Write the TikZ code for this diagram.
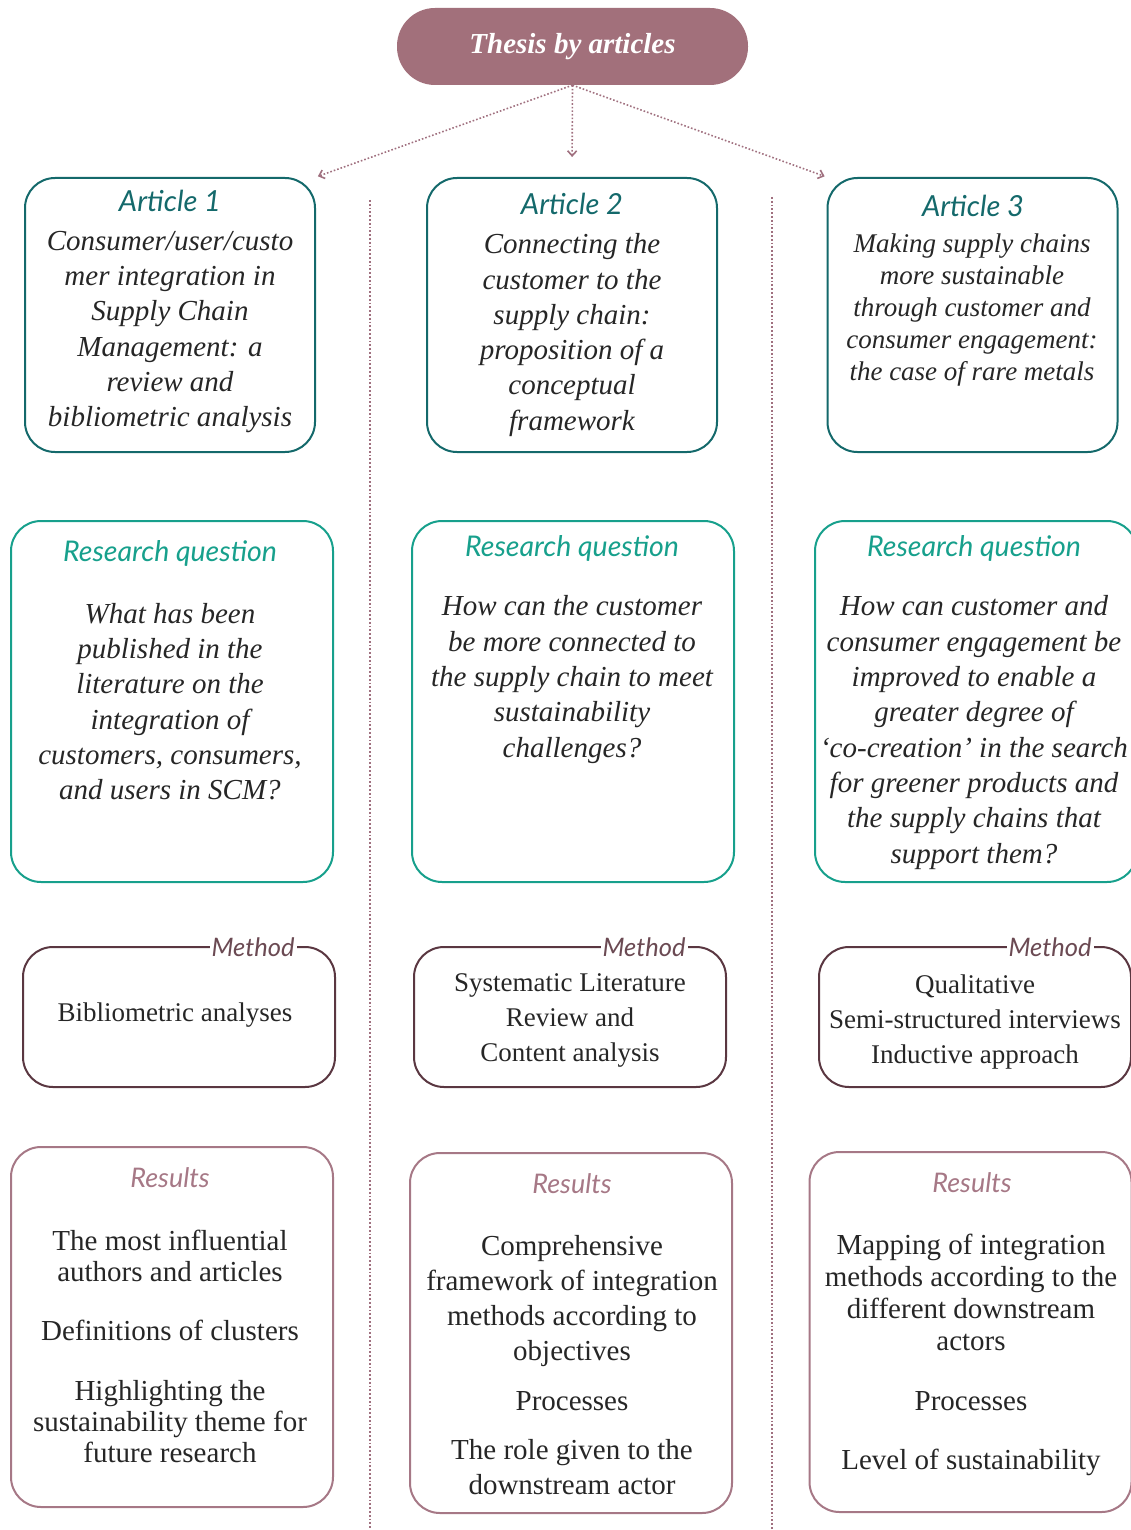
\documentclass[tikz,border=0pt]{standalone}
\usepackage{fontspec}
\setmainfont{Liberation Serif}
\newfontfamily\headfont{Lato}
\usetikzlibrary{arrows.meta,positioning}
\definecolor{artcol}{HTML}{14696B}
\definecolor{rqcol}{HTML}{17A08C}
\definecolor{methcol}{HTML}{5A3741}
\definecolor{methtxt}{HTML}{6B4A53}
\definecolor{rescol}{HTML}{A67886}
\definecolor{thesiscol}{HTML}{A2707B}
\definecolor{dotcol}{HTML}{A0707F}
\begin{document}
\begin{tikzpicture}[x=1pt, y=-1pt,
    thesis/.style={fill=thesiscol, rounded corners=38pt, minimum width=351pt, minimum height=77pt, text=white, font=\fontsize{29}{32}\selectfont\bfseries\itshape},
    artbox/.style={draw=artcol, line width=2pt, rounded corners=30pt, minimum width=290pt, minimum height=274pt},
    rqbox/.style={draw=rqcol, line width=2pt, rounded corners=30pt, minimum width=322pt, minimum height=361pt},
    methbox/.style={draw=methcol, line width=2pt, rounded corners=30pt, minimum width=312pt, minimum height=140pt},
    resbox/.style={draw=rescol, line width=2pt, rounded corners=30pt, minimum width=322pt, minimum height=360pt},
    arthead/.style={text=artcol, font=\headfont\itshape\fontsize{29}{32}\selectfont},
    rqhead/.style={text=rqcol, font=\headfont\itshape\fontsize{28.5}{32}\selectfont},
    methhead/.style={text=methtxt, fill=white, inner xsep=2pt, inner ysep=0pt, font=\headfont\itshape\fontsize{25.5}{28}\selectfont},
    reshead/.style={text=rescol, font=\headfont\itshape\fontsize{27}{30}\selectfont},
    body/.style={align=center, text=black!85, inner sep=0pt, font=\fontsize{27}{35}\selectfont},
    rbody/.style={body, font=\fontsize{29}{35}\selectfont},
    ibody/.style={body, font=\fontsize{29}{35.3}\selectfont\itshape},
    sbody/.style={body, font=\fontsize{27}{32}\selectfont\itshape},
    link/.style={dotted, line width=1.6pt, dotcol, -{Straight Barb[length=5pt, width=9pt]}},
    sep/.style={dotted, line width=1.8pt, dotcol}
]
\useasboundingbox (0,0) rectangle (1131,1530);

\node[thesis] (thesis) at (572.5,46.5) {Thesis by articles};

\node[artbox] (art1) at (170,315) {};
\node[artbox] (art2) at (572,315) {};
\node[artbox] (art3) at (972.5,315) {};
\node[rqbox] (rq1) at (172,701.5) {};
\node[rqbox] (rq2) at (573,701.5) {};
\node[rqbox] (rq3) at (976,701.5) {};
\node[methbox] (meth1) at (179,1017) {};
\node[methbox] (meth2) at (570,1017) {};
\node[methbox] (meth3) at (975,1017) {};
\node[resbox] (res1) at (172,1327) {};
\node[resbox] (res2) at (571,1333) {};
\node[resbox] (res3) at (970.5,1332) {};

\node[arthead] (art1h) at (170,201) {Article 1};
\node[arthead] (art2h) at (572,204) {Article 2};
\node[arthead] (art3h) at (973,206) {Article 3};
\node[ibody] (art1t) at (170,332) {Consumer/user/custo\\mer integration in\\Supply Chain\\Management: a\\review and\\bibliometric analysis};
\node[ibody] (art2t) at (572,335) {Connecting the\\customer to the\\supply chain:\\proposition of a\\conceptual\\framework};
\node[sbody] (art3t) at (972,310) {Making supply chains\\more sustainable\\through customer and\\consumer engagement:\\the case of rare metals};

\node[rqhead] (rq1h) at (170,553) {Research question};
\node[rqhead] (rq2h) at (572,548) {Research question};
\node[rqhead] (rq3h) at (974,548) {Research question};
\node[ibody] (rq1t) at (170,701.5) {What has been\\published in the\\literature on the\\integration of\\customers, consumers,\\and users in SCM?};
\node[ibody] (rq2t) at (572,679.5) {How can the customer\\be more connected to\\the supply chain to meet\\sustainability\\challenges?};
\node[ibody] (rq3t) at (974,732.5) {How can customer and\\consumer engagement be\\improved to enable a\\greater degree of\\`co-creation' in the search\\for greener products and\\the supply chains that\\support them?};

\node[methhead] (meth1h) at (253,947) {Method};
\node[methhead] (meth2h) at (644,947) {Method};
\node[methhead] (meth3h) at (1050,947) {Method};
\node[body] (meth1t) at (175,1015) {Bibliometric analyses};
\node[body] (meth2t) at (570,1020) {Systematic Literature\\Review and\\Content analysis};
\node[body] (meth3t) at (975,1021.5) {Qualitative\\Semi-structured interviews\\Inductive approach};

\node[reshead] (res1h) at (170,1178) {Results};
\node[reshead] (res2h) at (572,1184) {Results};
\node[reshead] (res3h) at (972,1183) {Results};
\node[rbody, font=\fontsize{29}{31}\selectfont] (res1t) at (170,1346) {The most influential\\authors and articles\\[28pt]Definitions of clusters\\[29pt]Highlighting the\\sustainability theme for\\future research};
\node[rbody] (res2t) at (572,1365.5) {Comprehensive\\framework of integration\\methods according to\\objectives\\[15pt]Processes\\[14pt]The role given to the\\downstream actor};
\node[rbody, font=\fontsize{29}{32}\selectfont] (res3t) at (971,1355) {Mapping of integration\\methods according to the\\different downstream\\actors\\[28pt]Processes\\[27pt]Level of sustainability};

\coordinate (sep1top) at (370,200);
\coordinate (sep1bot) at (370,1530);
\coordinate (sep2top) at (772,197);
\coordinate (sep2bot) at (772,1530);
\draw[sep] (sep1top) -- (sep1bot);
\draw[sep] (sep2top) -- (sep2bot);

\draw[link, shorten >=2pt] (thesis.south) -- (art1.north east);
\draw[link, shorten >=20pt] (thesis.south) -- (art2.north);
\draw[link, shorten >=2pt] (thesis.south) -- (art3.north west);
\end{tikzpicture}
\end{document}
